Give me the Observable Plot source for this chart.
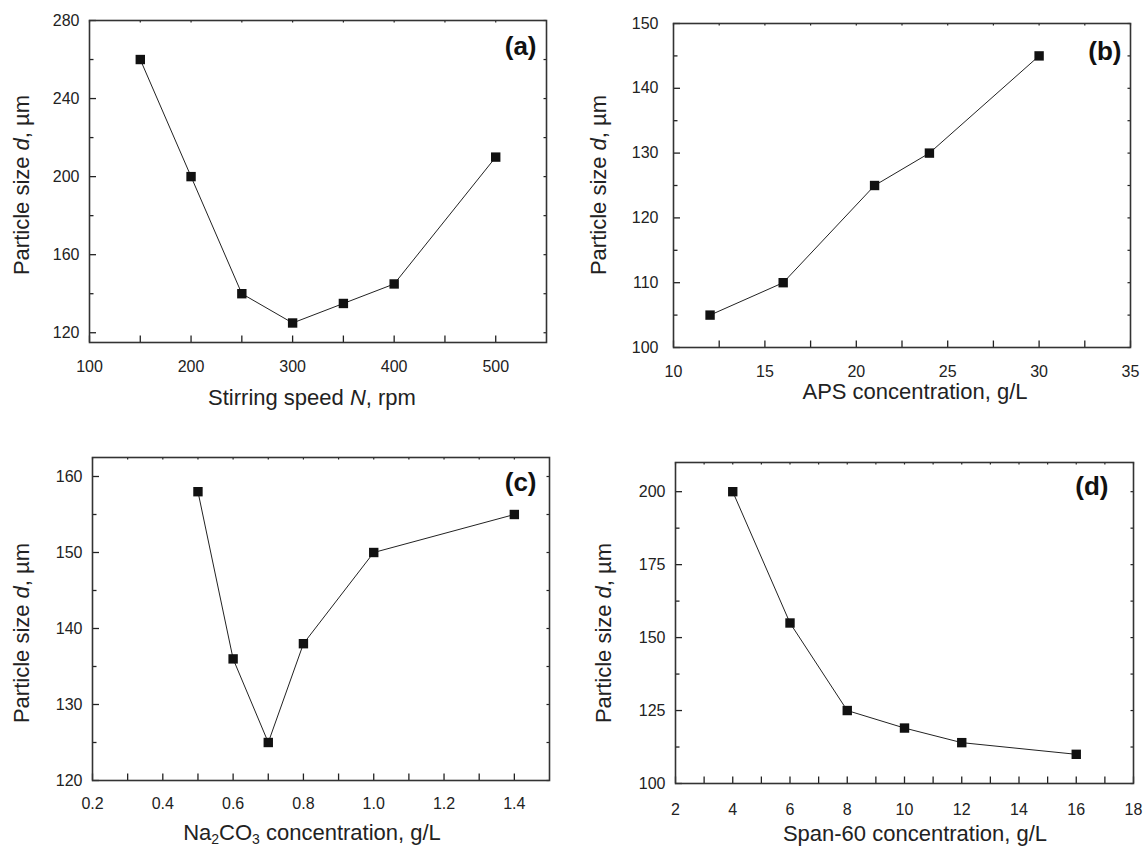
<!DOCTYPE html>
<html><head><meta charset="utf-8">
<script src="https://cdn.jsdelivr.net/npm/d3@7"></script>
<script src="https://cdn.jsdelivr.net/npm/@observablehq/plot@0.6"></script>
<style>
body{margin:0;background:#fff;}
#fig{position:relative;width:1143px;height:848px;overflow:hidden;background:#fff;font-family:"Liberation Sans",Arial,sans-serif;}
.panel{position:absolute;}
</style></head><body><div id="fig"></div>
<script>
// ---- data ----
const speedN = [150, 200, 250, 300, 350, 400, 500];
const sizeA = [260, 200, 140, 125, 135, 145, 210];
const apsConc = [12, 16, 21, 24, 30];
const sizeB = [105, 110, 125, 130, 145];
const naConc = [0.5, 0.6, 0.7, 0.8, 1.0, 1.4];
const sizeC = [158, 136, 125, 138, 150, 155];
const spanConc = [4, 6, 8, 10, 12, 16];
const sizeD = [200, 155, 125, 119, 114, 110];

// ---- tick values ----
const aXMajor = [100, 200, 300, 400, 500], aXMinor = [150, 250, 350, 450];
const aYMajor = [120, 160, 200, 240, 280], aYMinor = [140, 180, 220, 260];
const bXMajor = [10, 15, 20, 25, 30, 35], bXMinor = [12.5, 17.5, 22.5, 27.5, 32.5];
const bYMajor = [100, 110, 120, 130, 140, 150], bYMinor = [105, 115, 125, 135, 145];
const cXMajor = [0.2, 0.4, 0.6, 0.8, 1.0, 1.2, 1.4], cXMinor = [0.3, 0.5, 0.7, 0.9, 1.1, 1.3];
const cYMajor = [120, 130, 140, 150, 160], cYMinor = [125, 135, 145, 155];
const dXMajor = [2, 4, 6, 8, 10, 12, 14, 16, 18], dXMinor = [3, 5, 7, 9, 11, 13, 15, 17];
const dYMajor = [100, 125, 150, 175, 200], dYMinor = [112.5, 137.5, 162.5, 187.5];

const INK = "#222";

function panel(cfg) {
  const {xs, ys, xDomain, yDomain, xMajor, xMinor, yMajor, yMinor, xFormat, tag, tagDx, tagDy,
         width, height, m, left, top, yTitle, xTitle, xPad, yPad} = cfg;
  const innerW = width - m.l - m.r, innerH = height - m.t - m.b;
  const pts = xs.map((x, i) => ({x, y: ys[i]}));
  const allX = xMajor.concat(xMinor), allY = yMajor.concat(yMinor);
  const plot = Plot.plot({
    width, height,
    marginLeft: m.l, marginRight: m.r, marginTop: m.t, marginBottom: m.b,
    style: {fontFamily: '"Liberation Sans", Arial, sans-serif', fontSize: "16px", color: INK, background: "transparent"},
    x: {domain: xDomain, label: null},
    y: {domain: yDomain, label: null},
    marks: [
      Plot.tickX(allX, {x: d => d, insetTop: innerH - 6.5, stroke: INK, strokeWidth: 1.3}),
      Plot.tickX(allX, {x: d => d, insetBottom: innerH - 2.5, stroke: INK, strokeWidth: 1.2}),
      Plot.tickY(yMajor, {y: d => d, insetRight: innerW - 7, stroke: INK, strokeWidth: 1.3}),
      Plot.tickY(yMinor, {y: d => d, insetRight: innerW - 4.5, stroke: INK, strokeWidth: 1.3}),
      Plot.tickY(allY, {y: d => d, insetLeft: innerW - 2.5, stroke: INK, strokeWidth: 1.2}),
      Plot.frame({stroke: "#333", strokeWidth: 1.6}),
      Plot.axisX(xMajor, {tickSize: 0, tickPadding: xPad, fontSize: 16, tickFormat: xFormat, label: null}),
      Plot.axisY(yMajor, {tickSize: 0, tickPadding: yPad, fontSize: 16, label: null}),
      Plot.line(pts, {x: "x", y: "y", stroke: INK, strokeWidth: 1}),
      Plot.dot(pts, {x: "x", y: "y", symbol: "square", r: 5.3, fill: "#111", stroke: "none"}),
      Plot.text([tag], {text: d => d, frameAnchor: "top-right", textAnchor: "end", lineAnchor: "top", dx: tagDx, dy: tagDy,
                        fontSize: 26, fontWeight: "bold", fill: "#111"})
    ]
  });
  const svg = d3.select(plot);
  svg.selectAll('g[aria-label="x-axis tick label"], g[aria-label="y-axis tick label"]')
    .attr("font-size", 16).style("font-size", "16px");
  // y title
  const yt = svg.append("text")
    .attr("transform", `translate(${yTitle[0]},${yTitle[1]}) rotate(-90)`)
    .attr("text-anchor", "middle").attr("dy", "0.35em")
    .attr("font-size", 22).attr("fill", INK);
  yt.append("tspan").text("Particle size ");
  yt.append("tspan").attr("font-style", "italic").text("d");
  yt.append("tspan").text(", µm");
  // x title
  const xt = svg.append("text")
    .attr("x", xTitle[0]).attr("y", xTitle[1])
    .attr("text-anchor", "middle").attr("font-size", 22).attr("fill", INK);
  cfg.xTitleParts.forEach(p => {
    const t = xt.append("tspan").text(p.t);
    if (p.i) t.attr("font-style", "italic");
    if (p.sub) t.attr("font-size", 14).attr("dy", 4);
    if (p.up) t.attr("dy", -4);
  });
  const div = document.createElement("div");
  div.className = "panel";
  div.style.left = left + "px";
  div.style.top = top + "px";
  div.appendChild(plot);
  document.getElementById("fig").appendChild(div);
}

panel({
  xs: speedN, ys: sizeA, xDomain: [100, 550], yDomain: [115, 280],
  xMajor: aXMajor, xMinor: aXMinor, yMajor: aYMajor, yMinor: aYMinor,
  tag: "(a)", tagDx: -10, tagDy: 16, xPad: 18.5, yPad: 10,
  width: 570, height: 420, m: {l: 89, r: 24, t: 20, b: 78}, left: 0, top: 0,
  yTitle: [21, 185], xTitle: [312, 405],
  xTitleParts: [{t: "Stirring speed "}, {t: "N", i: true}, {t: ", rpm"}]
});
panel({
  xs: apsConc, ys: sizeB, xDomain: [10, 35], yDomain: [100, 150],
  xMajor: bXMajor, xMinor: bXMinor, yMajor: bYMajor, yMinor: bYMinor,
  tag: "(b)", tagDx: -9, tagDy: 18, xPad: 18.5, yPad: 15,
  width: 573, height: 420, m: {l: 103, r: 13, t: 23, b: 73}, left: 570, top: 0,
  yTitle: [28, 185], xTitle: [345, 399],
  xTitleParts: [{t: "APS concentration, g/L"}]
});
panel({
  xs: naConc, ys: sizeC, xDomain: [0.2, 1.5], yDomain: [120, 162.5],
  xMajor: cXMajor, xMinor: cXMinor, yMajor: cYMajor, yMinor: cYMinor, xFormat: d3.format(".1f"),
  tag: "(c)", tagDx: -13, tagDy: 15, xPad: 17, yPad: 10,
  width: 570, height: 428, m: {l: 92, r: 21, t: 37, b: 68}, left: 0, top: 420,
  yTitle: [21, 213], xTitle: [312, 420],
  xTitleParts: [{t: "Na"}, {t: "2", sub: true}, {t: "CO", up: true}, {t: "3", sub: true}, {t: " concentration, g/L", up: true}]
});
panel({
  xs: spanConc, ys: sizeD, xDomain: [2, 18], yDomain: [100, 210],
  xMajor: dXMajor, xMinor: dXMinor, yMajor: dYMajor, yMinor: dYMinor,
  tag: "(d)", tagDx: -25, tagDy: 14, xPad: 20, yPad: 10,
  width: 573, height: 428, m: {l: 105, r: 10, t: 42, b: 65}, left: 570, top: 420,
  yTitle: [33, 213], xTitle: [345, 421],
  xTitleParts: [{t: "Span-60 concentration, g/L"}]
});
</script>
</body></html>
